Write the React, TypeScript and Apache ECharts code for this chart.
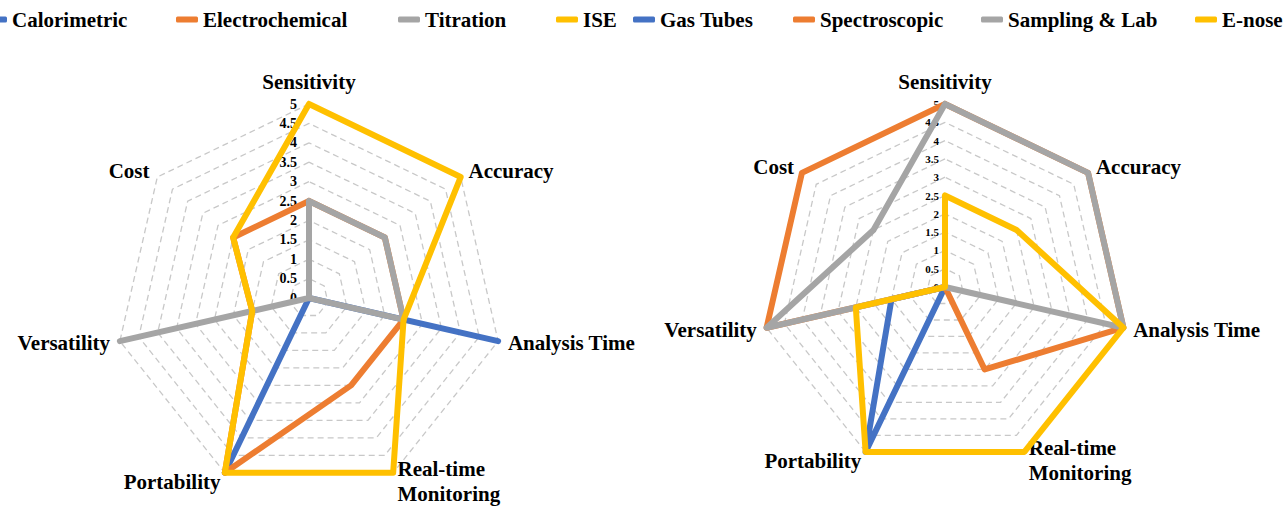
import React, { useEffect, useRef } from "react";
import * as echarts from "echarts";

const indicatorNames = [
  "Sensitivity",
  "Accuracy",
  "Analysis Time",
  "Real-time\nMonitoring",
  "Portability",
  "Versatility",
  "Cost",
];

// Left chart (laboratory methods)
const leftNames = ["Calorimetric", "Electrochemical", "Titration", "ISE"];
const calorimetric = [0, 0, 5, 0, 5, 0, 0];
const electrochemical = [2.5, 2.5, 2.5, 2.5, 5, 1.5, 2.5];
const titration = [2.5, 2.5, 2.5, 0, 0, 5, 0];
const ise = [5, 5, 2.5, 5, 5, 1.5, 2.5];

// Right chart (field methods)
const rightNames = ["Gas Tubes", "Spectroscopic", "Sampling & Lab", "E-nose"];
const gasTubes = [0, 0, 0, 0, 5, 1.5, 0];
const spectroscopic = [5, 5, 5, 2.5, 0, 5, 5];
const samplingLab = [5, 5, 5, 0, 0, 5, 2.5];
const eNose = [2.5, 2.5, 5, 5, 5, 2.5, 0];

const colors = ["#4472C4", "#ED7D31", "#A5A5A5", "#FFC000"];
const legendTextStarts = [12, 203, 425, 583, 660, 820, 1008, 1222];

const FONT = '"Liberation Serif", "Times New Roman", serif';

// ECharts radar runs counter-clockwise; reorder so the axes go clockwise
const order = [0, 6, 5, 4, 3, 2, 1];
const reorder = <T,>(arr: T[]) => order.map((i) => arr[i]);

function makeRadar(center: [number, number], radius: number, labelSize: number, labelMargin: number) {
  return {
    center,
    radius,
    startAngle: 90,
    splitNumber: 10,
    shape: "polygon",
    nameGap: 10,
    axisName: {
      color: "#000",
      fontSize: 21,
      fontWeight: "bold",
      fontFamily: FONT,
      lineHeight: 25,
    },
    indicator: reorder(indicatorNames).map((n, i) => ({
      name: n,
      min: 0,
      max: 5,
      axisLabel: { show: i === 0 },
    })),
    axisLabel: {
      show: false,
      color: "#000",
      fontSize: labelSize,
      fontWeight: "bold",
      fontFamily: FONT,
      margin: labelMargin,
      formatter: (v: number) => String(v),
    },
    axisLine: { show: false },
    axisTick: { show: false },
    splitArea: { show: false },
    splitLine: { lineStyle: { color: "#c8c8c8", width: 1.3, type: [6, 4] } },
  };
}

export default function App() {
  const ref = useRef<HTMLDivElement>(null);
  useEffect(() => {
    document.body.style.margin = "0";
    if (!ref.current) return;
    const chart = echarts.init(ref.current, null, { renderer: "svg" });
    const allNames = [...leftNames, ...rightNames];
    const leftData = [calorimetric, electrochemical, titration, ise];
    const rightData = [gasTubes, spectroscopic, samplingLab, eNose];
    const mkSeries = (names: string[], data: number[][], radarIndex: number) =>
      names.map((name, i) => ({
        type: "radar",
        name,
        radarIndex,
        symbol: "none",
        color: colors[i],
        lineStyle: { width: 6, color: colors[i], cap: "round", join: "round" },
        data: [{ value: reorder(data[i]), name }],
      }));
    chart.setOption({
      animation: false,
      backgroundColor: "#fff",
      legend: allNames.map((name, i) => ({
        data: [name],
        left: legendTextStarts[i] - 27,
        top: 9,
        padding: 0,
        itemWidth: 22,
        itemHeight: 6,
        icon: "roundRect",
        textStyle: { color: "#000", fontSize: 21, fontWeight: "bold", fontFamily: FONT },
      })),
      radar: [makeRadar([309, 298], 194, 14, 12), makeRadar([945, 287], 183, 11, 6)],
      series: [...mkSeries(leftNames, leftData, 0), ...mkSeries(rightNames, rightData, 1)],
    });
    return () => chart.dispose();
  }, []);
  return <div ref={ref} style={{ width: 1284, height: 509 }} />;
}
